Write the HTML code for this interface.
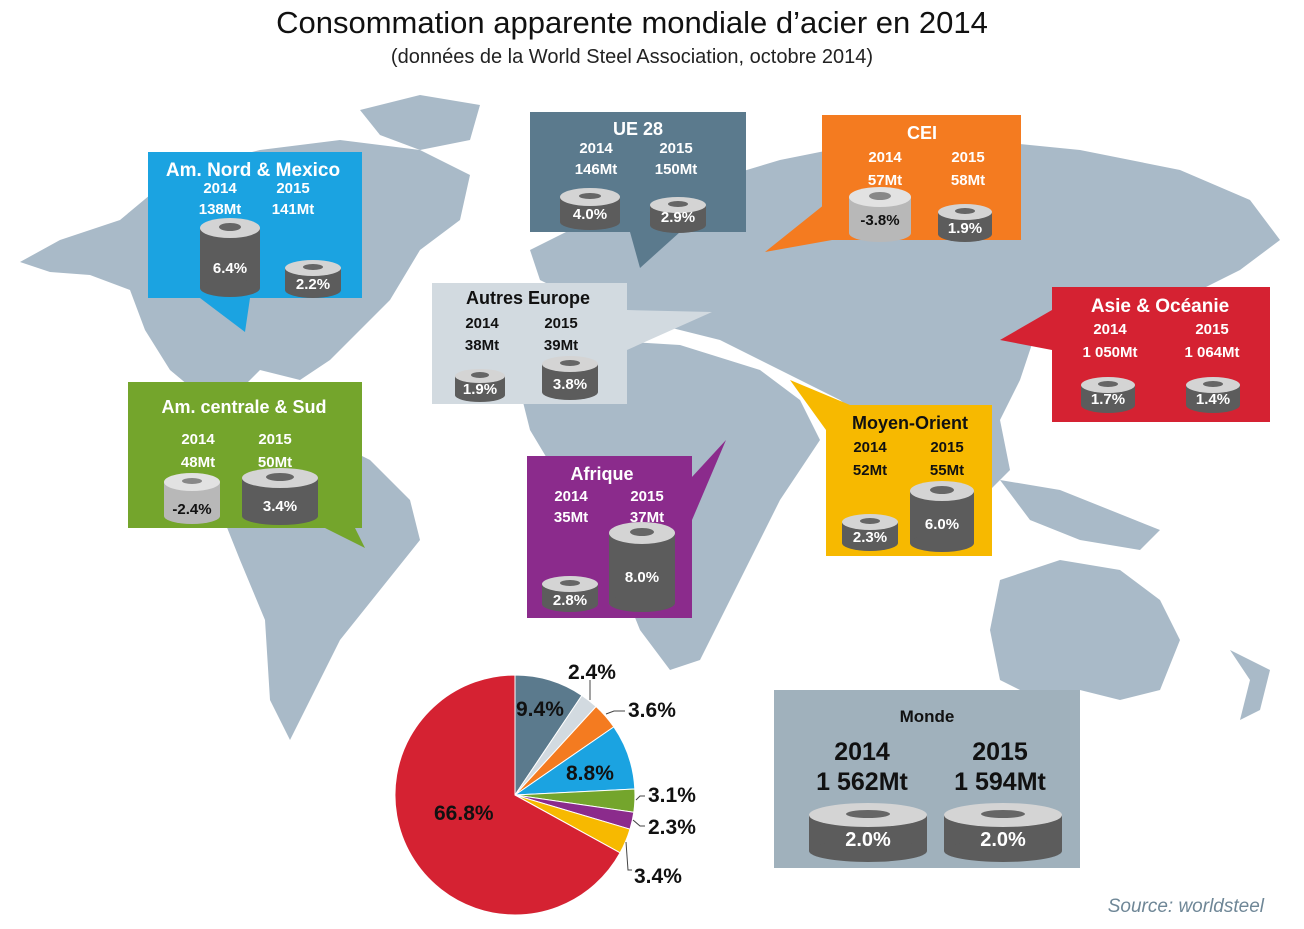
<!DOCTYPE html>
<html><head><meta charset="utf-8"><style>
body{margin:0;background:#fff;width:1304px;height:924px;overflow:hidden;font-family:"Liberation Sans",sans-serif}
svg text{font-family:"Liberation Sans",sans-serif}
</style></head><body>
<svg width="1304" height="924" viewBox="0 0 1304 924" xmlns="http://www.w3.org/2000/svg">
<text x="632" y="33" font-size="31" text-anchor="middle" fill="#111">Consommation apparente mondiale d’acier en 2014</text>
<text x="632" y="63" font-size="20" text-anchor="middle" fill="#222">(données de la World Steel Association, octobre 2014)</text>
<!-- Map -->
<g fill="#a9bac8">
<path d="M20,262 L60,240 L120,220 L180,170 L260,150 L340,140 L420,150 L470,175 L460,220 L420,250 L390,300 L360,330 L330,360 L300,380 L260,370 L230,400 L200,395 L170,370 L145,330 L130,290 L90,275 L50,272Z"/>
<path d="M360,110 L420,95 L480,105 L470,140 L420,150 L380,135Z"/>
<path d="M230,400 L280,410 L330,440 L370,460 L410,500 L420,540 L380,590 L340,640 L310,700 L290,740 L270,700 L265,620 L240,560 L220,510 L210,460Z"/>
<path d="M530,250 L600,215 L680,190 L780,160 L880,140 L980,140 L1080,150 L1180,170 L1250,200 L1280,240 L1240,270 L1200,290 L1100,300 L1040,320 L1020,380 L1000,420 L1010,470 L980,500 L950,480 L920,460 L880,430 L840,400 L800,380 L760,360 L720,340 L680,330 L640,320 L600,300 L560,290 L540,280Z"/>
<path d="M530,360 L600,340 L680,345 L760,370 L800,400 L820,440 L800,470 L780,500 L760,540 L740,580 L720,620 L700,660 L670,670 L640,630 L620,580 L600,520 L560,480 L530,430 L520,390Z"/>
<path d="M1000,580 L1060,560 L1120,570 L1160,600 L1180,640 L1160,690 L1120,700 L1080,690 L1040,700 L1000,680 L990,630Z"/>
<path d="M1000,480 L1060,490 L1110,510 L1160,530 L1140,550 L1080,540 L1030,520Z"/>
<path d="M1230,650 L1270,670 L1260,710 L1240,720 L1250,680Z"/>
</g>
<!-- pointers -->
<polygon points="200,298 250,298 245,332" fill="#1ba3e1"/>
<polygon points="630,232 680,232 640,268" fill="#5b7a8d"/>
<polygon points="830,200 860,235 765,252" fill="#f47b20"/>
<polygon points="627,310 627,350 712,312" fill="#d2dae0"/>
<polygon points="1052,310 1052,350 1000,340" fill="#d52232"/>
<polygon points="325,528 355,528 365,548" fill="#74a52c"/>
<polygon points="680,490 692,520 726,440" fill="#8b2b8c"/>
<polygon points="826,430 850,405 790,380" fill="#f7b900"/>
<!-- boxes -->
<rect x="148" y="152" width="214" height="146" fill="#1ba3e1"/>
<rect x="530" y="112" width="216" height="120" fill="#5b7a8d"/>
<rect x="822" y="115" width="199" height="125" fill="#f47b20"/>
<rect x="432" y="283" width="195" height="121" fill="#d2dae0"/>
<rect x="1052" y="287" width="218" height="135" fill="#d52232"/>
<rect x="128" y="382" width="234" height="146" fill="#74a52c"/>
<rect x="527" y="456" width="165" height="162" fill="#8b2b8c"/>
<rect x="826" y="405" width="166" height="151" fill="#f7b900"/>
<rect x="774" y="690" width="306" height="178" fill="#a0b1bc"/>
<g font-weight="bold" text-anchor="middle" fill="#fff">
<text x="253" y="176" font-size="19">Am. Nord &amp; Mexico</text>
<text x="220" y="193" font-size="15">2014</text><text x="293" y="193" font-size="15">2015</text>
<text x="220" y="214" font-size="15">138Mt</text><text x="293" y="214" font-size="15">141Mt</text>
<text x="638" y="135" font-size="18">UE 28</text>
<text x="596" y="153" font-size="15">2014</text><text x="676" y="153" font-size="15">2015</text>
<text x="596" y="174" font-size="15">146Mt</text><text x="676" y="174" font-size="15">150Mt</text>
<text x="922" y="139" font-size="18">CEI</text>
<text x="885" y="162" font-size="15">2014</text><text x="968" y="162" font-size="15">2015</text>
<text x="885" y="185" font-size="15">57Mt</text><text x="968" y="185" font-size="15">58Mt</text>
<g fill="#111"><text x="528" y="304" font-size="18">Autres Europe</text>
<text x="482" y="328" font-size="15">2014</text><text x="561" y="328" font-size="15">2015</text>
<text x="482" y="350" font-size="15">38Mt</text><text x="561" y="350" font-size="15">39Mt</text></g>
<text x="1160" y="312" font-size="19">Asie &amp; Océanie</text>
<text x="1110" y="334" font-size="15">2014</text><text x="1212" y="334" font-size="15">2015</text>
<text x="1110" y="357" font-size="15">1 050Mt</text><text x="1212" y="357" font-size="15">1 064Mt</text>
<text x="244" y="413" font-size="18">Am. centrale &amp; Sud</text>
<text x="198" y="444" font-size="15">2014</text><text x="275" y="444" font-size="15">2015</text>
<text x="198" y="467" font-size="15">48Mt</text><text x="275" y="467" font-size="15">50Mt</text>
<text x="602" y="480" font-size="18">Afrique</text>
<text x="571" y="501" font-size="15">2014</text><text x="647" y="501" font-size="15">2015</text>
<text x="571" y="522" font-size="15">35Mt</text><text x="647" y="522" font-size="15">37Mt</text>
<g fill="#111"><text x="910" y="429" font-size="18">Moyen-Orient</text>
<text x="870" y="452" font-size="15">2014</text><text x="947" y="452" font-size="15">2015</text>
<text x="870" y="475" font-size="15">52Mt</text><text x="947" y="475" font-size="15">55Mt</text>
<text x="927" y="722" font-size="17">Monde</text>
<text x="862" y="760" font-size="25">2014</text><text x="1000" y="760" font-size="25">2015</text>
<text x="862" y="790" font-size="25">1 562Mt</text><text x="1000" y="790" font-size="25">1 594Mt</text></g>
</g>
<!-- cylinders -->
<g font-weight="bold" font-size="15" text-anchor="middle">
<g><rect x="200" y="228" width="60" height="60" fill="#5c5c5c"/><ellipse cx="230" cy="288" rx="30" ry="9" fill="#5c5c5c"/><ellipse cx="230" cy="228" rx="30" ry="10" fill="#d4d4d4"/><ellipse cx="230" cy="227" rx="11" ry="4" fill="#666"/><text x="230" y="273" fill="#fff">6.4%</text></g>
<g><rect x="285" y="268" width="56" height="22" fill="#5c5c5c"/><ellipse cx="313" cy="290" rx="28" ry="8" fill="#5c5c5c"/><ellipse cx="313" cy="268" rx="28" ry="8" fill="#d4d4d4"/><ellipse cx="313" cy="267" rx="10" ry="3" fill="#666"/><text x="313" y="289" fill="#fff">2.2%</text></g>
<g><rect x="560" y="197" width="60" height="25" fill="#5c5c5c"/><ellipse cx="590" cy="222" rx="30" ry="8" fill="#5c5c5c"/><ellipse cx="590" cy="197" rx="30" ry="9" fill="#d4d4d4"/><ellipse cx="590" cy="196" rx="11" ry="3" fill="#666"/><text x="590" y="219" fill="#fff">4.0%</text></g>
<g><rect x="650" y="205" width="56" height="20" fill="#5c5c5c"/><ellipse cx="678" cy="225" rx="28" ry="8" fill="#5c5c5c"/><ellipse cx="678" cy="205" rx="28" ry="8" fill="#d4d4d4"/><ellipse cx="678" cy="204" rx="10" ry="3" fill="#666"/><text x="678" y="222" fill="#fff">2.9%</text></g>
<g><rect x="849" y="197" width="62" height="36" fill="#b8b8b8"/><ellipse cx="880" cy="233" rx="31" ry="9" fill="#b8b8b8"/><ellipse cx="880" cy="197" rx="31" ry="10" fill="#e2e2e2"/><ellipse cx="880" cy="196" rx="11" ry="4" fill="#888"/><text x="880" y="225" fill="#111">-3.8%</text></g>
<g><rect x="938" y="212" width="54" height="22" fill="#5c5c5c"/><ellipse cx="965" cy="234" rx="27" ry="8" fill="#5c5c5c"/><ellipse cx="965" cy="212" rx="27" ry="8" fill="#d4d4d4"/><ellipse cx="965" cy="211" rx="10" ry="3" fill="#666"/><text x="965" y="233" fill="#fff">1.9%</text></g>
<g><rect x="455" y="376" width="50" height="19" fill="#5c5c5c"/><ellipse cx="480" cy="395" rx="25" ry="7" fill="#5c5c5c"/><ellipse cx="480" cy="376" rx="25" ry="7" fill="#d4d4d4"/><ellipse cx="480" cy="375" rx="9" ry="3" fill="#666"/><text x="480" y="394" fill="#fff">1.9%</text></g>
<g><rect x="542" y="364" width="56" height="28" fill="#5c5c5c"/><ellipse cx="570" cy="392" rx="28" ry="8" fill="#5c5c5c"/><ellipse cx="570" cy="364" rx="28" ry="8" fill="#d4d4d4"/><ellipse cx="570" cy="363" rx="10" ry="3" fill="#666"/><text x="570" y="389" fill="#fff">3.8%</text></g>
<g><rect x="1081" y="385" width="54" height="20" fill="#5c5c5c"/><ellipse cx="1108" cy="405" rx="27" ry="8" fill="#5c5c5c"/><ellipse cx="1108" cy="385" rx="27" ry="8" fill="#d4d4d4"/><ellipse cx="1108" cy="384" rx="10" ry="3" fill="#666"/><text x="1108" y="404" fill="#fff">1.7%</text></g>
<g><rect x="1186" y="385" width="54" height="20" fill="#5c5c5c"/><ellipse cx="1213" cy="405" rx="27" ry="8" fill="#5c5c5c"/><ellipse cx="1213" cy="385" rx="27" ry="8" fill="#d4d4d4"/><ellipse cx="1213" cy="384" rx="10" ry="3" fill="#666"/><text x="1213" y="404" fill="#fff">1.4%</text></g>
<g><rect x="164" y="482" width="56" height="34" fill="#b8b8b8"/><ellipse cx="192" cy="516" rx="28" ry="8" fill="#b8b8b8"/><ellipse cx="192" cy="482" rx="28" ry="9" fill="#e2e2e2"/><ellipse cx="192" cy="481" rx="10" ry="3" fill="#888"/><text x="192" y="514" fill="#111">-2.4%</text></g>
<g><rect x="242" y="478" width="76" height="38" fill="#5c5c5c"/><ellipse cx="280" cy="516" rx="38" ry="9" fill="#5c5c5c"/><ellipse cx="280" cy="478" rx="38" ry="10" fill="#d4d4d4"/><ellipse cx="280" cy="477" rx="14" ry="4" fill="#666"/><text x="280" y="511" fill="#fff">3.4%</text></g>
<g><rect x="542" y="584" width="56" height="20" fill="#5c5c5c"/><ellipse cx="570" cy="604" rx="28" ry="8" fill="#5c5c5c"/><ellipse cx="570" cy="584" rx="28" ry="8" fill="#d4d4d4"/><ellipse cx="570" cy="583" rx="10" ry="3" fill="#666"/><text x="570" y="605" fill="#fff">2.8%</text></g>
<g><rect x="609" y="533" width="66" height="70" fill="#5c5c5c"/><ellipse cx="642" cy="603" rx="33" ry="9" fill="#5c5c5c"/><ellipse cx="642" cy="533" rx="33" ry="11" fill="#d4d4d4"/><ellipse cx="642" cy="532" rx="12" ry="4" fill="#666"/><text x="642" y="582" fill="#fff">8.0%</text></g>
<g><rect x="842" y="522" width="56" height="21" fill="#5c5c5c"/><ellipse cx="870" cy="543" rx="28" ry="8" fill="#5c5c5c"/><ellipse cx="870" cy="522" rx="28" ry="8" fill="#d4d4d4"/><ellipse cx="870" cy="521" rx="10" ry="3" fill="#666"/><text x="870" y="542" fill="#fff">2.3%</text></g>
<g><rect x="910" y="491" width="64" height="52" fill="#5c5c5c"/><ellipse cx="942" cy="543" rx="32" ry="9" fill="#5c5c5c"/><ellipse cx="942" cy="491" rx="32" ry="10" fill="#d4d4d4"/><ellipse cx="942" cy="490" rx="12" ry="4" fill="#666"/><text x="942" y="529" fill="#fff">6.0%</text></g>
<g font-size="20"><rect x="809" y="815" width="118" height="36" fill="#5c5c5c"/><ellipse cx="868" cy="851" rx="59" ry="11" fill="#5c5c5c"/><ellipse cx="868" cy="815" rx="59" ry="12" fill="#d4d4d4"/><ellipse cx="868" cy="814" rx="22" ry="4" fill="#666"/><text x="868" y="846" fill="#fff">2.0%</text></g>
<g font-size="20"><rect x="944" y="815" width="118" height="36" fill="#5c5c5c"/><ellipse cx="1003" cy="851" rx="59" ry="11" fill="#5c5c5c"/><ellipse cx="1003" cy="815" rx="59" ry="12" fill="#d4d4d4"/><ellipse cx="1003" cy="814" rx="22" ry="4" fill="#666"/><text x="1003" y="846" fill="#fff">2.0%</text></g>
</g>
<!-- Pie -->
<g stroke="#fff" stroke-width="1">
<path d="M515,795 L515,675 A120,120 0 0 1 581.9,695.4Z" fill="#5b7a8d"/>
<path d="M515,795 L581.9,695.4 A120,120 0 0 1 596.1,706.5Z" fill="#d2dae0"/>
<path d="M515,795 L596.1,706.5 A120,120 0 0 1 613.8,726.9Z" fill="#f47b20"/>
<path d="M515,795 L613.8,726.9 A120,120 0 0 1 634.8,789.0Z" fill="#1ba3e1"/>
<path d="M515,795 L634.8,789.0 A120,120 0 0 1 633.8,812.3Z" fill="#74a52c"/>
<path d="M515,795 L633.8,812.3 A120,120 0 0 1 630.0,829.2Z" fill="#8b2b8c"/>
<path d="M515,795 L630.0,829.2 A120,120 0 0 1 620.1,852.8Z" fill="#f7b900"/>
<path d="M515,795 L620.1,852.8 A120,120 0 1 1 515,675Z" fill="#d52232"/>
</g>
<g stroke="#444" fill="none" stroke-width="1">
<path d="M590,700 L590,680"/><path d="M606,714 L614,711 L625,711"/>
<path d="M636,800 L640,796 L645,796"/><path d="M633,820 L640,826 L645,826"/><path d="M626,842 L628,870 L632,870"/>
</g>
<g font-weight="bold" font-size="21" fill="#111">
<text x="516" y="716">9.4%</text>
<text x="568" y="679">2.4%</text>
<text x="628" y="717">3.6%</text>
<text x="566" y="780">8.8%</text>
<text x="648" y="802">3.1%</text>
<text x="648" y="834">2.3%</text>
<text x="634" y="883">3.4%</text>
<text x="434" y="820">66.8%</text>
</g>
<text x="1264" y="912" font-size="19" font-style="italic" text-anchor="end" fill="#6f8797">Source: worldsteel</text>
</svg>
</body></html>
